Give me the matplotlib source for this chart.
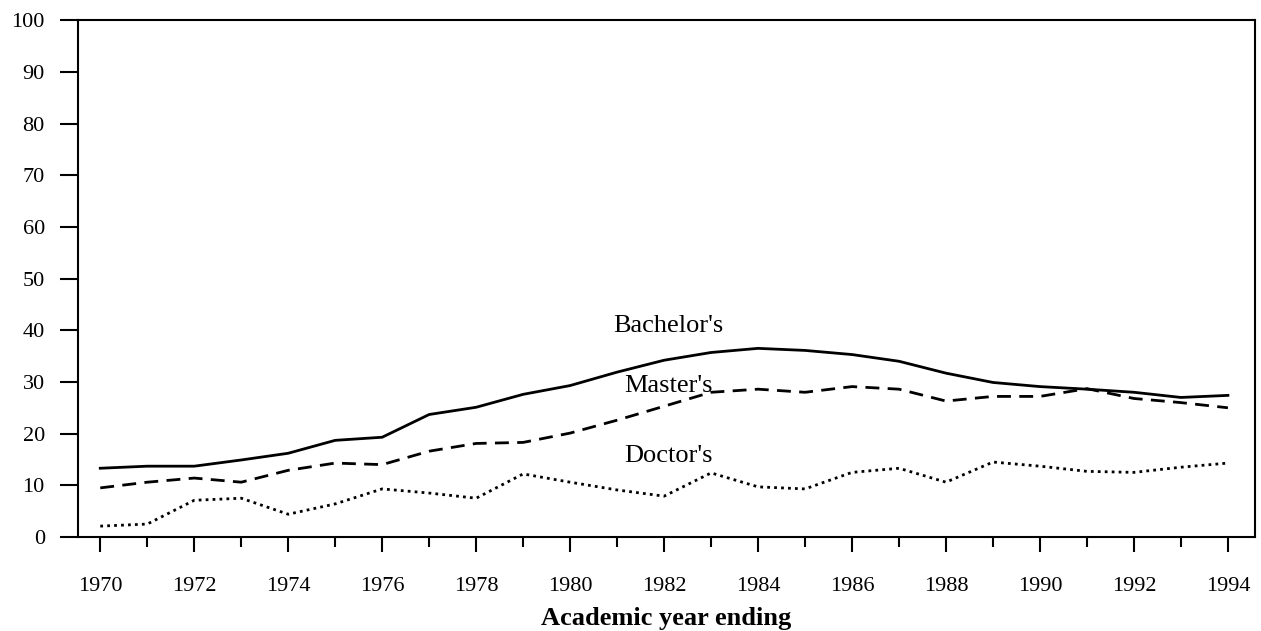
import matplotlib
matplotlib.use("Agg")
import matplotlib.pyplot as plt
import numpy as np

plt.rcParams["font.family"] = ["Liberation Serif", "DejaVu Serif"]

# Percent of degrees
years = list(range(1970, 1995))
bachelors = [13.3, 13.7, 13.7, 14.9, 16.2, 18.7, 19.3, 23.7, 25.1, 27.6, 29.3, 31.9,
             34.2, 35.7, 36.5, 36.1, 35.3, 34.0, 31.7, 29.9, 29.1, 28.6, 28.0, 27.0, 27.4]
masters = [9.5, 10.6, 11.4, 10.6, 12.9, 14.3, 14.0, 16.6, 18.1, 18.3, 20.1, 22.6,
           25.3, 28.0, 28.6, 28.0, 29.1, 28.6, 26.3, 27.2, 27.2, 28.7, 26.8, 26.0, 25.0]
doctors = [2.1, 2.5, 7.1, 7.5, 4.4, 6.4, 9.3, 8.5, 7.5, 12.2, 10.6, 9.1,
           7.9, 12.4, 9.7, 9.3, 12.5, 13.3, 10.6, 14.5, 13.7, 12.7, 12.5, 13.5, 14.3]

series_labels = ["Bachelor's", "Master's", "Doctor's"]
label_pos = [(1982.1, 40.8), (1982.1, 29.3), (1982.1, 15.6)]

fig = plt.figure(figsize=(12.61, 6.31), dpi=100)
ax = fig.add_axes([0.062, 0.149, 0.933, 0.819])

ax.plot(years, bachelors, color="black", linestyle="-", linewidth=2)
ax.plot(years, masters, color="black", linestyle=(0, (5, 3)), linewidth=2)
ax.plot(years, doctors, color="black", linestyle=(0, (1, 1.5)), linewidth=2)

for text, (x, y) in zip(series_labels, label_pos):
    ax.text(x, y, text, ha="center", va="center", fontsize=19)

ax.set_xlim(1969.53, 1994.57)
ax.set_ylim(0, 100)
ax.set_yticks(np.arange(0, 101, 10))
ax.set_xticks(np.arange(1970, 1995, 2))
ax.set_xticks(np.arange(1971, 1995, 2), minor=True)

ax.tick_params(axis="y", direction="out", length=13, width=1.5, labelsize=16, pad=11)
ax.tick_params(axis="x", which="major", direction="out", length=11, width=1.5,
               labelsize=16, pad=18)
ax.tick_params(axis="x", which="minor", direction="out", length=7, width=1.5)

for sp in ax.spines.values():
    sp.set_linewidth(1.5)

ax.set_xlabel("Academic year ending", fontsize=19, fontweight="bold", labelpad=8)

fig.savefig("out.png", dpi=100)
